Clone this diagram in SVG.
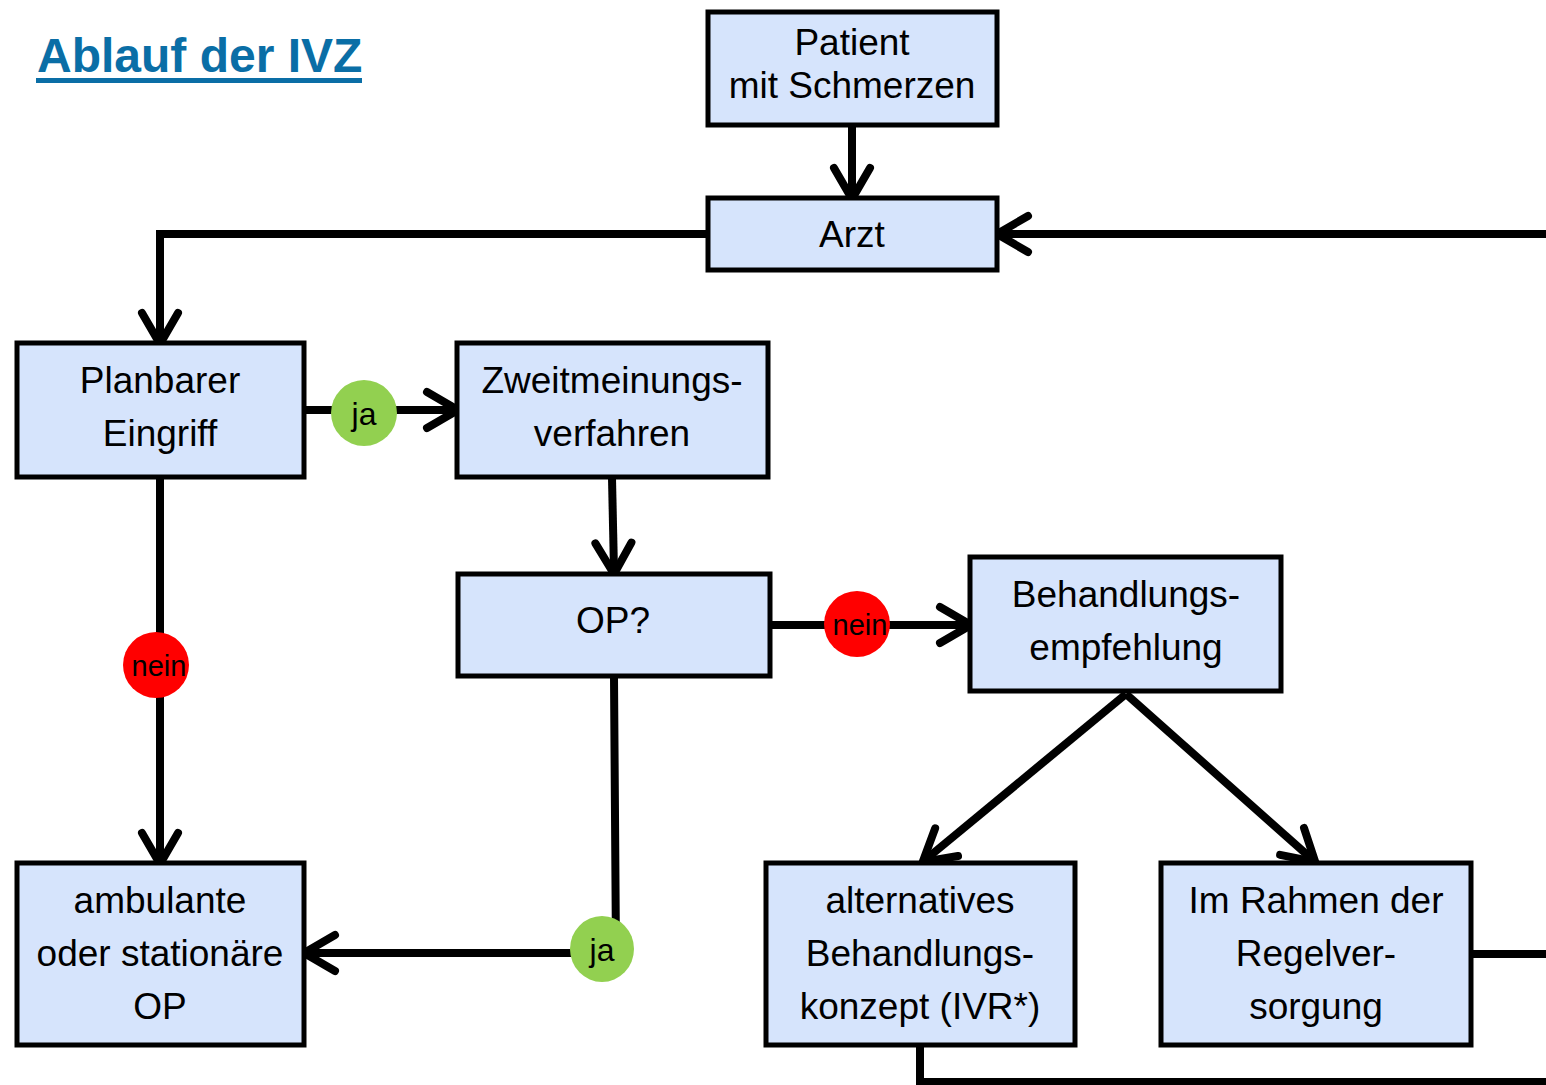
<svg xmlns="http://www.w3.org/2000/svg" width="1546" height="1085" viewBox="0 0 1546 1085">
  <defs>
    <marker id="chev" markerUnits="userSpaceOnUse" markerWidth="60" markerHeight="60" viewBox="-40 -30 60 60" refX="-3" refY="0" orient="auto" overflow="visible">
      <path d="M -31 -18 L 0 0 L -31 18" fill="none" stroke="#000" stroke-width="8" stroke-linecap="round" stroke-linejoin="miter"/>
    </marker>
    <style>
      .box { fill: #d6e4fc; stroke: #000; stroke-width: 5; }
      .t { font-family: "Liberation Sans", Arial, sans-serif; font-size: 37px; fill: #000; text-anchor: middle; }
      .c { font-family: "Liberation Sans", Arial, sans-serif; font-size: 29px; fill: #000; text-anchor: middle; }
      .cj { font-size: 32px; }
      .ln { fill: none; stroke: #000; stroke-width: 8; stroke-linejoin: miter; }
      .arr { marker-end: url(#chev); }
    </style>
  </defs>
  <rect width="1546" height="1085" fill="#fff"/>

  <g id="title">
    <text x="37" y="72" font-family="Liberation Sans, Arial, sans-serif" font-weight="bold" font-size="48" fill="#0a6ea6">Ablauf der IVZ</text>
    <rect x="36" y="78" width="326" height="5" fill="#0a6ea6"/>
  </g>

  <g id="connectors">
    <line class="ln arr" x1="852" y1="126" x2="852" y2="196"/>
    <polyline class="ln arr" points="706,234 160,234 160,341"/>
    <line class="ln arr" x1="1546" y1="234" x2="1000" y2="234"/>
    <line class="ln arr" x1="305" y1="410" x2="455" y2="410"/>
    <line class="ln arr" x1="612" y1="478" x2="614" y2="571"/>
    <line class="ln arr" x1="771" y1="625" x2="968" y2="625"/>
    <line class="ln arr" x1="160" y1="478" x2="160" y2="861"/>
    <polyline class="ln arr" points="614,677 616,953 307,953"/>
    <line class="ln arr" x1="1126" y1="694" x2="925" y2="860"/>
    <line class="ln arr" x1="1126" y1="694" x2="1313" y2="860"/>
    <line class="ln" x1="1472" y1="954" x2="1546" y2="954"/>
    <polyline class="ln" points="920,1046 920,1082 1546,1082"/>
  </g>

  <g id="labels">
    <g id="ja1"><circle cx="364" cy="413" r="33" fill="#92d050"/><text class="c cj" x="364" y="425">ja</text></g>
    <g id="nein1"><circle cx="857" cy="624" r="33" fill="#ff0000"/><text class="c" x="860" y="635">nein</text></g>
    <g id="nein2"><circle cx="156" cy="665" r="33" fill="#ff0000"/><text class="c" x="159" y="676">nein</text></g>
    <g id="ja2"><ellipse cx="602" cy="949" rx="32" ry="33" fill="#92d050"/><text class="c cj" x="602" y="961">ja</text></g>
  </g>

  <g id="patient">
    <rect class="box" x="708" y="12" width="289" height="113"/>
    <text class="t" x="852" y="55">Patient</text>
    <text class="t" x="852" y="98">mit Schmerzen</text>
  </g>
  <g id="arzt">
    <rect class="box" x="708" y="198" width="289" height="72"/>
    <text class="t" x="852" y="247">Arzt</text>
  </g>
  <g id="planbarer">
    <rect class="box" x="17" y="343" width="287" height="134"/>
    <text class="t" x="160" y="393">Planbarer</text>
    <text class="t" x="160" y="446">Eingriff</text>
  </g>
  <g id="zweitmeinung">
    <rect class="box" x="457" y="343" width="311" height="134"/>
    <text class="t" x="612" y="393">Zweitmeinungs-</text>
    <text class="t" x="612" y="446">verfahren</text>
  </g>
  <g id="op">
    <rect class="box" x="458" y="574" width="312" height="102"/>
    <text class="t" x="613" y="633">OP?</text>
  </g>
  <g id="behandlung">
    <rect class="box" x="970" y="557" width="311" height="134"/>
    <text class="t" x="1126" y="607">Behandlungs-</text>
    <text class="t" x="1126" y="660">empfehlung</text>
  </g>
  <g id="ambulante">
    <rect class="box" x="17" y="863" width="287" height="182"/>
    <text class="t" x="160" y="913">ambulante</text>
    <text class="t" x="160" y="966">oder stationäre</text>
    <text class="t" x="160" y="1019">OP</text>
  </g>
  <g id="alternativ">
    <rect class="box" x="766" y="863" width="309" height="182"/>
    <text class="t" x="920" y="913">alternatives</text>
    <text class="t" x="920" y="966">Behandlungs-</text>
    <text class="t" x="920" y="1019">konzept (IVR*)</text>
  </g>
  <g id="regelversorgung">
    <rect class="box" x="1161" y="863" width="310" height="182"/>
    <text class="t" x="1316" y="913">Im Rahmen der</text>
    <text class="t" x="1316" y="966">Regelver-</text>
    <text class="t" x="1316" y="1019">sorgung</text>
  </g>
</svg>
